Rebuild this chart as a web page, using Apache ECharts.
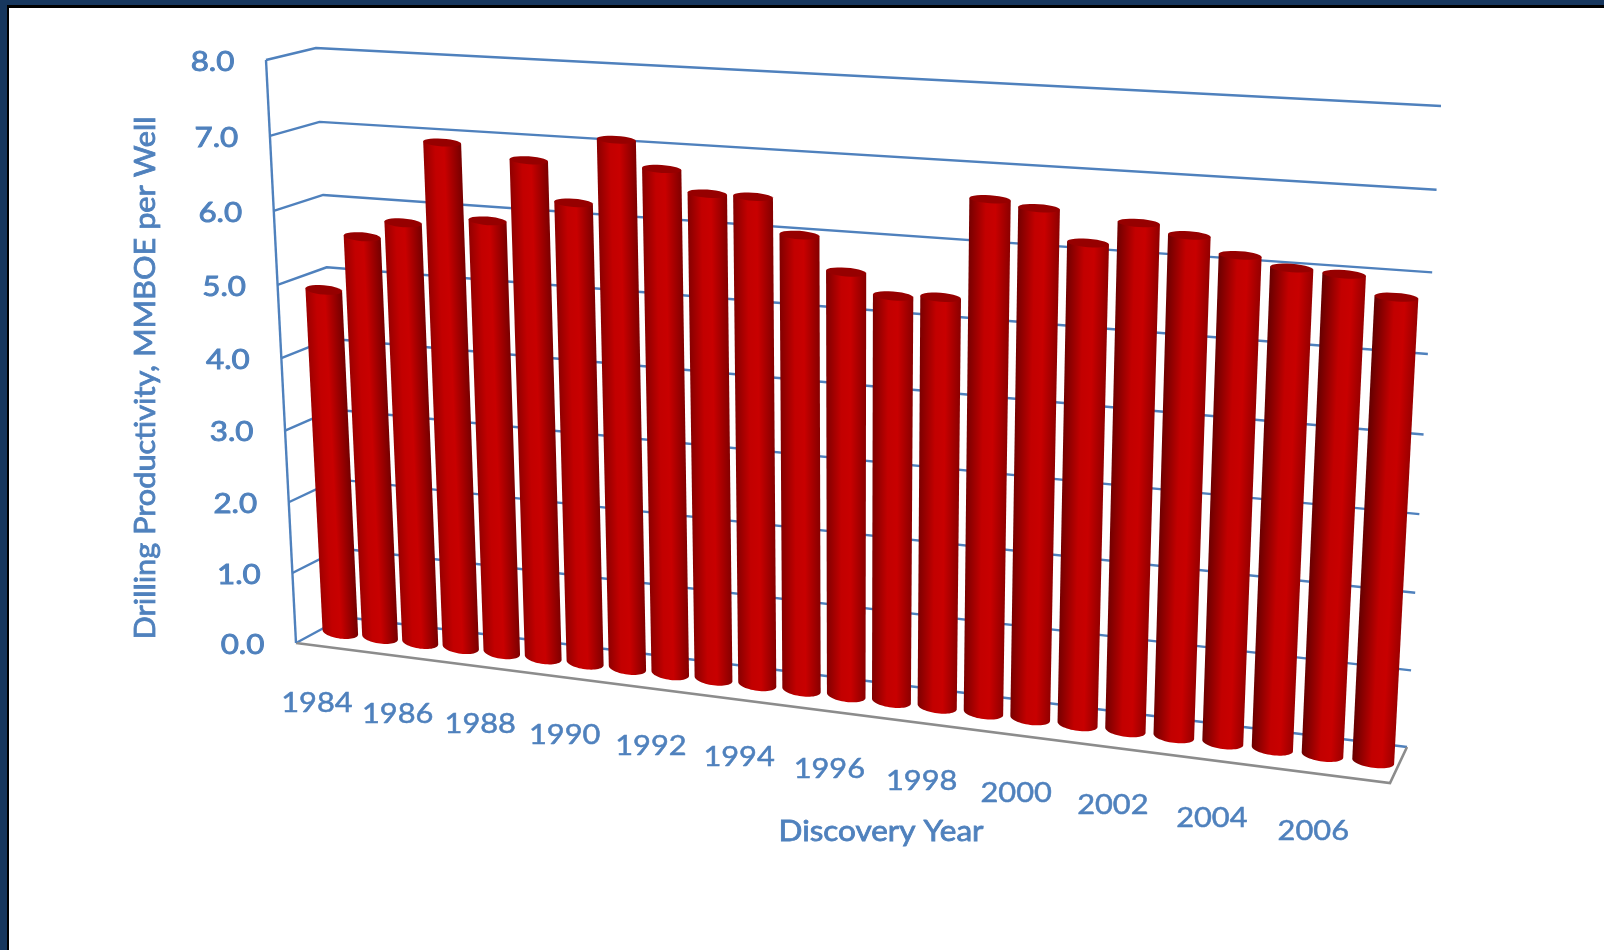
<!DOCTYPE html>
<html>
<head>
<meta charset="utf-8">
<title>Drilling Productivity</title>
<script src="https://cdn.jsdelivr.net/npm/echarts@6/dist/echarts.min.js"></script>
<style>
html,body{margin:0;padding:0;background:#fff;}
#chart{width:1604px;height:950px;}
</style>
</head>
<body>
<div id="chart"></div>
<script>
// Discovery years, one cylinder per year; every second year carries a label.
const years = ['1984','1985','1986','1987','1988','1989','1990','1991','1992','1993','1994','1995',
  '1996','1997','1998','1999','2000','2001','2002','2003','2004','2005','2006','2007'];
// Drilling productivity, MMBOE per well.
const productivity = [4.83,5.6,5.83,6.94,5.94,6.78,6.26,7.12,6.78,6.5,6.5,6.05,
  5.62,5.36,5.39,6.67,6.6,6.21,6.5,6.39,6.19,6.08,6.05,5.82];
const valueTicks = [0,1,2,3,4,5,6,7,8];

const BLUE = '#4f81bd', GREY = '#8c8c8c';
const LABEL_FONT = '400 27px Lato, "Open Sans", sans-serif';
const TITLE_FONT = '400 29px Lato, "Open Sans", sans-serif';

// Corners of the 3D plot box on screen, indexed [u][v][w]:
// u runs along the years, v up the value axis, w from the front to the back wall.
const box = [
  [[[296,643],[344,617]], [[266,60],[316,48]]],
  [[[1390,783],[1407,747]], [[1424,126],[1441,106]]]
];
// Perspective weights for each direction of the box.
const persp = [-0.128, -0.045, 0.05];

function project(u, v, w) {
  let nx = 0, ny = 0, den = 0;
  for (let a = 0; a < 2; a++) for (let b = 0; b < 2; b++) for (let c = 0; c < 2; c++) {
    const basis = (a ? u : 1 - u) * (b ? v : 1 - v) * (c ? w : 1 - w);
    const d = (1 + persp[0] * a + persp[1] * b + persp[2] * c) * basis;
    nx += d * box[a][b][c][0];
    ny += d * box[a][b][c][1];
    den += d;
  }
  return [nx / den, ny / den];
}

// Normalised position of a data point inside the flat grid that supplies the scales.
function toUnit(params, pt) {
  const g = params.coordSys;
  return [(pt[0] - g.x) / g.width, (g.y + g.height - pt[1]) / g.height];
}

function mix(c1, c2, t) {
  const c = c1.map((x, i) => Math.round(x + (c2[i] - x) * t));
  return 'rgb(' + c.join(',') + ')';
}

function renderWall(params, api) {
  const val = api.value(0);
  const v = toUnit(params, api.coord([0, val]))[1];
  const kids = [{
    type: 'polyline',
    shape: { points: [project(0, v, 0), project(0, v, 1), project(1, v, 1)] },
    style: { stroke: BLUE, lineWidth: 2.4, fill: null, lineJoin: 'round' }
  }];
  if (val === 0) {
    kids.push({
      type: 'polyline',
      shape: { points: [project(0, 0, 0), project(1, 0, 0), project(1, 0, 1)] },
      style: { stroke: GREY, lineWidth: 2.6, fill: null }
    });
    kids.push({
      type: 'line',
      shape: { x1: project(0, 0, 0)[0], y1: project(0, 0, 0)[1], x2: project(0, 1, 0)[0], y2: project(0, 1, 0)[1] },
      style: { stroke: BLUE, lineWidth: 2.4 }
    });
  }
  const tick = project(0, v, 0);
  kids.push({
    type: 'text', x: tick[0] - 53.5, y: tick[1] + 2, scaleX: 1.16,
    style: { text: val.toFixed(1), font: LABEL_FONT, fill: BLUE, stroke: BLUE, lineWidth: 0.9,
      align: 'center', verticalAlign: 'middle' }
  });
  return { type: 'group', children: kids };
}

function ellipse(center, axis, minor, from, to) {
  const pts = [];
  const n = 28;
  for (let k = 0; k <= n; k++) {
    const th = from + (to - from) * k / n;
    pts.push([center[0] + axis[0] * Math.cos(th), center[1] + axis[1] * Math.cos(th) + minor * Math.sin(th)]);
  }
  return pts;
}

function renderBar(params, api) {
  const idx = api.value(0);
  const center = toUnit(params, api.coord([idx, 0]));
  const top = toUnit(params, api.coord([idx, api.value(1)]));
  const t = idx / (years.length - 1);
  const half = api.size([1, 0])[0] / params.coordSys.width * (0.45 - 0.04 * t);
  const u = center[0], depth = 0.5;

  const pL0 = project(u - half, 0, depth), pR0 = project(u + half, 0, depth);
  const pL1 = project(u - half, top[1], depth), pR1 = project(u + half, top[1], depth);
  const c0 = [(pL0[0] + pR0[0]) / 2, (pL0[1] + pR0[1]) / 2];
  const c1 = [(pL1[0] + pR1[0]) / 2, (pL1[1] + pR1[1]) / 2];
  const a0 = [(pR0[0] - pL0[0]) / 2, (pR0[1] - pL0[1]) / 2];
  const a1 = [(pR1[0] - pL1[0]) / 2, (pR1[1] - pL1[1]) / 2];

  const minorBottom = 6.5, minorTop = 6.5 - 3 * top[1];
  const body = [pL1, pR1].concat(ellipse(c0, a0, minorBottom, 0, Math.PI));
  const cap = ellipse(c1, a1, minorTop, 0, Math.PI * 2);

  // Shade across the cylinder, at right angles to its leaning axis.
  const ax = c1[0] - c0[0], ay = c1[1] - c0[1], len = Math.hypot(ax, ay);
  const nx = -ay / len, ny = ax / len;
  const lm = [(pL0[0] + pL1[0]) / 2, (pL0[1] + pL1[1]) / 2];
  const rm = [(pR0[0] + pR1[0]) / 2, (pR0[1] + pR1[1]) / 2];
  const span = (rm[0] - lm[0]) * nx + (rm[1] - lm[1]) * ny;
  const leftEdge = mix([158,0,0], [100,0,0], t);
  const rightEdge = mix([115,0,0], [155,0,0], t);
  const peak = 0.4 + 0.18 * t;
  const fill = new echarts.graphic.LinearGradient(lm[0], lm[1], lm[0] + nx * span, lm[1] + ny * span, [
    { offset: 0, color: leftEdge },
    { offset: peak - 0.12, color: '#c20000' },
    { offset: peak + 0.12, color: '#c80000' },
    { offset: 1, color: rightEdge }
  ], true);

  return {
    type: 'group',
    children: [
      { type: 'polygon', shape: { points: body }, style: { fill: fill } },
      { type: 'polygon', shape: { points: cap }, style: { fill: '#960000' } }
    ]
  };
}

function renderYearLabel(params, api) {
  const idx = api.value(0);
  const u = toUnit(params, api.coord([idx, 0]))[0];
  const p = project(u, 0, 0);
  return {
    type: 'text', x: p[0] + 1, y: p[1] + 58, scaleX: 1.14,
    style: { text: years[idx], font: LABEL_FONT, fill: BLUE, stroke: BLUE, lineWidth: 0.5,
      align: 'center', verticalAlign: 'middle' }
  };
}

const chart = echarts.init(document.getElementById('chart'), null, { renderer: 'canvas' });
chart.setOption({
  animation: false,
  backgroundColor: '#fff',
  grid: { left: 0, top: 0, width: 1000, height: 800 },
  xAxis: { type: 'category', data: years, show: false },
  yAxis: { type: 'value', min: 0, max: 8, interval: 1, show: false },
  graphic: [
    { type: 'rect', shape: { x: 0, y: 0, width: 1604, height: 5 }, style: { fill: '#17375e' }, z: 10 },
    { type: 'rect', shape: { x: 0, y: 5, width: 1604, height: 3 }, style: { fill: '#000' }, z: 10 },
    { type: 'rect', shape: { x: 0, y: 0, width: 7, height: 950 }, style: { fill: '#17375e' }, z: 10 },
    { type: 'rect', shape: { x: 7, y: 5, width: 2, height: 945 }, style: { fill: '#000' }, z: 10 },
    { type: 'text', x: 146, y: 378, rotation: Math.PI / 2, scaleX: 1.06, z: 10,
      style: { text: 'Drilling Productivity, MMBOE per Well', font: TITLE_FONT, stroke: BLUE, lineWidth: 0.8,
        fill: BLUE, align: 'center', verticalAlign: 'middle' } },
    { type: 'text', x: 881, y: 832, scaleX: 1.085, z: 10,
      style: { text: 'Discovery Year', font: TITLE_FONT, stroke: BLUE, lineWidth: 0.8,
        fill: BLUE, align: 'center', verticalAlign: 'middle' } }
  ],
  series: [
    { type: 'custom', coordinateSystem: 'cartesian2d', silent: true, clip: false, z: 1,
      renderItem: renderWall, encode: { y: 0 }, data: valueTicks.map(v => [v]) },
    { type: 'custom', coordinateSystem: 'cartesian2d', silent: true, clip: false, z: 2,
      renderItem: renderBar, encode: { x: 0, y: 1 }, data: productivity.map((v, i) => [i, v]) },
    { type: 'custom', coordinateSystem: 'cartesian2d', silent: true, clip: false, z: 3,
      renderItem: renderYearLabel, encode: { x: 0 },
      data: years.map((y, i) => [i]).filter(d => d[0] % 2 === 0) }
  ]
});
</script>
</body>
</html>
